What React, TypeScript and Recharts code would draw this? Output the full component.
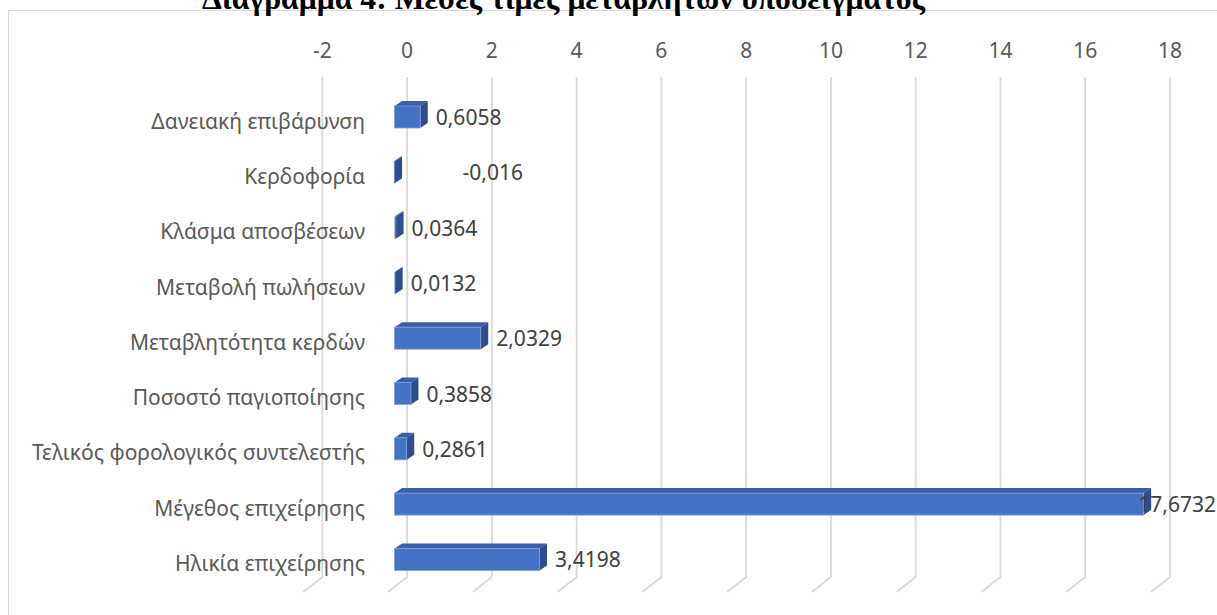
import { BarChart, Bar, XAxis, YAxis, CartesianGrid, LabelList } from 'recharts';

const categories = [
  'Δανειακή επιβάρυνση',
  'Κερδοφορία',
  'Κλάσμα αποσβέσεων',
  'Μεταβολή πωλήσεων',
  'Μεταβλητότητα κερδών',
  'Ποσοστό παγιοποίησης',
  'Τελικός φορολογικός συντελεστής',
  'Μέγεθος επιχείρησης',
  'Ηλικία επιχείρησης',
];
const means = [0.6058, -0.016, 0.0364, 0.0132, 2.0329, 0.3858, 0.2861, 17.6732, 3.4198];
const xTicks = [-2, 0, 2, 4, 6, 8, 10, 12, 14, 16, 18];

const data = categories.map((name, i) => ({ name, value: means[i] }));

const W = 1217;
const H = 615;
const FONT = '"Noto Sans", "Open Sans", sans-serif';
const FS = 21;

// fake 3D: bars sit on a front plane shifted left of the back wall
const FRONT_SHIFT = -12.5;
const DEPTH_X = 7.5;
const DEPTH_Y = -5;
const WALL_TOP = 77;
const WALL_BOTTOM = 577;
const FLOOR_DX = -19;
const FLOOR_DY = 15;

const fmt = (v: number) => String(v).replace('.', ',');

const Bar3D = (props: any) => {
  const { x, y, width, height } = props;
  const x0 = Math.min(x, x + width) + FRONT_SHIFT;
  const x1 = Math.max(x, x + width) + FRONT_SHIFT;
  const y0 = y;
  const y1 = y + height;
  const top = `M${x0},${y0} L${x0 + DEPTH_X},${y0 + DEPTH_Y} L${x1 + DEPTH_X},${y0 + DEPTH_Y} L${x1},${y0} Z`;
  const side = `M${x1},${y0} L${x1 + DEPTH_X},${y0 + DEPTH_Y} L${x1 + DEPTH_X},${y1 + DEPTH_Y} L${x1},${y1} Z`;
  return (
    <g>
      <path d={top} fill="#3A5FA6" />
      <path d={side} fill="#2D4E8E" />
      <rect x={x0} y={y0} width={x1 - x0} height={y1 - y0} fill="#4472C4"
        stroke={x1 - x0 > 2 ? '#7F9FD8' : 'none'} strokeWidth={0.8} />
    </g>
  );
};

const ValueLabel = (props: any) => {
  const { x, y, width, height, value } = props;
  const zeroEnd = Math.max(x, x + width) + FRONT_SHIFT;
  const text = fmt(value);
  let lx = value < 0 ? zeroEnd + 68 : zeroEnd + DEPTH_X + 8;
  let anchor: 'start' | 'end' = 'start';
  if (lx + text.length * 0.55 * FS > W - 1) {
    lx = W - 1;
    anchor = 'end';
  }
  return (
    <text x={lx} y={y + height / 2} dominantBaseline="central" textAnchor={anchor}
      fontFamily={FONT} fontSize={FS} fill="#404040">
      {text}
    </text>
  );
};

const XTick = (props: any) => (
  <text x={props.x} y={50} textAnchor="middle" dominantBaseline="central"
    fontFamily={FONT} fontSize={FS} fill="#595959">
    {props.payload.value}
  </text>
);

const YTick = (props: any) => (
  <text x={365} y={props.y + 4} textAnchor="end" dominantBaseline="central"
    fontFamily={FONT} fontSize={FS} fill="#595959">
    {props.payload.value}
  </text>
);

// back wall gridline with its floor segment running toward the viewer
const wallLine = (p: any) => (
  <path key={p.key ?? p.index}
    d={`M${p.x1},${WALL_TOP} L${p.x1},${WALL_BOTTOM} L${p.x1 + FLOOR_DX},${WALL_BOTTOM + FLOOR_DY}`}
    stroke="#D9D9D9" strokeWidth={1.8} fill="none" />
);

export default function App() {
  return (
    <div style={{ position: 'fixed', left: 0, top: 0, width: W, height: H, overflow: 'hidden', background: '#fff' }}>
      <div style={{ position: 'absolute', left: 7.5, top: 10, width: 1400, height: 800,
        border: '1.5px solid #D9D9D9', boxSizing: 'border-box' }} />
      <div style={{ position: 'absolute', left: 0, top: 0 }}>
        <BarChart width={W} height={H} data={data} layout="vertical"
          margin={{ top: 0, right: 47, bottom: 28.3, left: 0 }}>
          <CartesianGrid horizontal={false} vertical={wallLine} syncWithTicks />
          <XAxis type="number" orientation="top" domain={[-2, 18]} ticks={xTicks}
            allowDataOverflow height={89} axisLine={false} tickLine={false} tick={<XTick />} />
          <YAxis type="category" dataKey="name" width={322.3} axisLine={false}
            tickLine={false} tick={<YTick />} interval={0} />
          <Bar dataKey="value" barSize={22} shape={<Bar3D />} isAnimationActive={false}>
            <LabelList dataKey="value" content={<ValueLabel />} />
          </Bar>
        </BarChart>
      </div>
      <svg width={W} height={40} style={{ position: 'absolute', left: 0, top: 0 }}>
        <text x={563.5} y={8.5} textAnchor="middle" fontFamily='"Liberation Serif", serif'
          fontWeight="bold" fontSize={31.7} fill="#000">
          Διάγραμμα 4: Μέσες τιμές μεταβλητών υποδείγματος
        </text>
      </svg>
    </div>
  );
}
